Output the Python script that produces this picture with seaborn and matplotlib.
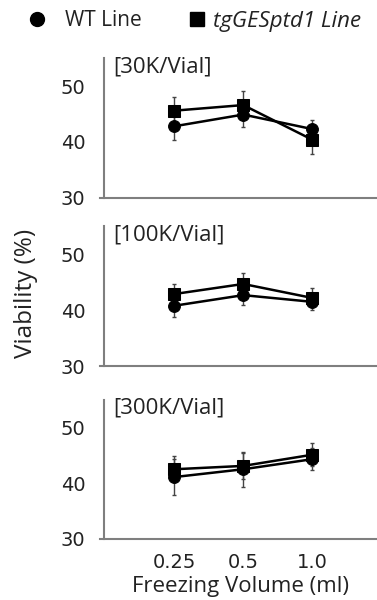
import pandas as pd
import numpy as np
import matplotlib
matplotlib.use("Agg")
import matplotlib.pyplot as plt
import seaborn as sns
from matplotlib.lines import Line2D

# data
volumes = ["0.25", "0.5", "1.0"]
panels = ["[30K/Vial]", "[100K/Vial]", "[300K/Vial]"]
lines = ["WT Line", "tgGESptd1 Line"]

wt_mean = [[42.8, 44.9, 42.3], [40.8, 42.7, 41.5], [41.1, 42.5, 44.3]]
wt_err = [[2.5, 2.3, 1.6], [2.1, 1.8, 1.5], [3.3, 3.1, 2.0]]
tg_mean = [[45.6, 46.6, 40.4], [42.9, 44.7, 42.2], [42.5, 43.1, 45.1]]
tg_err = [[2.5, 2.5, 2.6], [1.8, 1.9, 1.7], [2.3, 2.4, 2.1]]

yticks = [30, 40, 50]

rows = []
for p, panel in enumerate(panels):
    for i, v in enumerate(volumes):
        rows.append({"panel": panel, "volume": v, "line": lines[0], "viability": wt_mean[p][i], "err": wt_err[p][i]})
        rows.append({"panel": panel, "volume": v, "line": lines[1], "viability": tg_mean[p][i], "err": tg_err[p][i]})
df = pd.DataFrame(rows)
df["volume"] = pd.Categorical(df["volume"], categories=volumes, ordered=True)
df["pos"] = df["volume"].cat.codes

sns.set_style("white")
plt.rcParams["font.family"] = ["DejaVu Sans"]
txt_font = ["Open Sans", "DejaVu Sans"]
txt_col = "#222222"

fig = plt.figure(figsize=(3.77, 6), dpi=100)
spine_col = "#7f7f7f"
markers = {lines[0]: "o", lines[1]: "s"}
msize = {lines[0]: 8.5, lines[1]: 8.5}

bottoms = [1 - 197.7 / 600, 1 - 366 / 600, 1 - 539 / 600]
left = 104 / 377
for p, panel in enumerate(panels):
    ax = fig.add_axes([left, bottoms[p], 1 - left, 139.5 / 600])
    sub = df[df["panel"] == panel]
    for ln in lines:
        d = sub[sub["line"] == ln]
        ax.errorbar(d["pos"], d["viability"], yerr=d["err"], fmt="none",
                    ecolor="#444444", elinewidth=1.0, capsize=1.5, capthick=1.0, zorder=2)
        sns.lineplot(data=d, x="pos", y="viability", ax=ax, color="black",
                     marker=markers[ln], markersize=msize[ln], markeredgecolor="black",
                     linewidth=1.8, legend=False, zorder=3)
    ax.set_xlim(-1.02, 2.94)
    ax.set_ylim(30, 55)
    ax.set_yticks(yticks)
    ax.set_xticks(range(len(volumes)))
    ax.set_xlabel("")
    ax.set_ylabel("")
    for s in ["top", "right"]:
        ax.spines[s].set_visible(False)
    for s in ["left", "bottom"]:
        ax.spines[s].set_color(spine_col)
        ax.spines[s].set_linewidth(1.5)
    ax.spines["bottom"].set_bounds(-1.08, 2.94)
    ax.tick_params(axis="both", direction="out", length=4, width=1.2, color=spine_col,
                   labelsize=14, labelcolor=txt_col)
    ax.tick_params(axis="y", pad=9.5)
    ax.tick_params(axis="x", pad=6)
    if p < 2:
        ax.set_xticklabels([])
    else:
        ax.set_xticklabels(volumes)
        ax.set_xlabel("Freezing Volume (ml)", fontsize=16, color=txt_col, labelpad=3,
                      fontfamily=txt_font)
    ax.text(0.033, 1.015, panel, transform=ax.transAxes, fontsize=16, va="top", ha="left",
            color=txt_col, fontfamily=txt_font)

fig.text(25.5 / 377, 1 - 293 / 600, "Viability (%)", rotation=90, fontsize=17.5,
         va="center", ha="center", color=txt_col, fontfamily=txt_font)

# legend, two separate entries so spacing can follow the reference
h_wt = Line2D([], [], color="black", marker="o", linestyle="none", markersize=10)
h_tg = Line2D([], [], color="black", marker="s", linestyle="none", markersize=10)
leg1 = fig.legend([h_wt], [lines[0]], loc="center left", bbox_to_anchor=(26.6 / 377, 1 - 21 / 600),
                  frameon=False, handlelength=1.0, handletextpad=0.85, borderpad=0,
                  borderaxespad=0, prop={"family": txt_font, "size": 15})
leg2 = fig.legend([h_tg], [lines[1]], loc="center left", bbox_to_anchor=(185.9 / 377, 1 - 21 / 600),
                  frameon=False, handlelength=1.0, handletextpad=0.22, borderpad=0,
                  borderaxespad=0, prop={"family": txt_font, "size": 16, "style": "italic"})
for lg in (leg1, leg2):
    for t in lg.get_texts():
        t.set_color(txt_col)

fig.savefig("out.png", dpi=100)
